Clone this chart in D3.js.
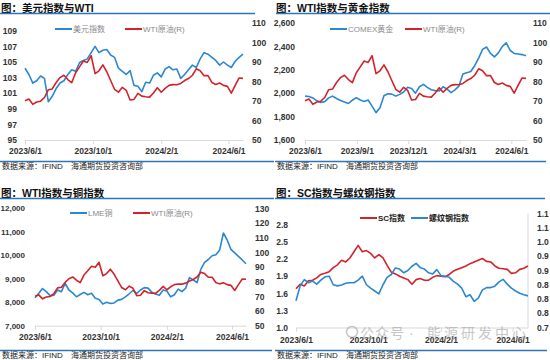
<!DOCTYPE html>
<html><head><meta charset="utf-8">
<script src="https://cdn.jsdelivr.net/npm/d3@7"></script>
<style>
body{margin:0;background:#fff;}
svg{display:block;}
text{font-family:"Liberation Sans","Noto Sans CJK SC",sans-serif;}
</style></head><body>
<svg id="c" width="550" height="360"></svg>
<script>
// ---------- DATA ----------
const dates = ["2023-06-01","2023-06-08","2023-06-15","2023-06-22","2023-06-29","2023-07-06","2023-07-13","2023-07-20","2023-07-27",
"2023-08-03","2023-08-10","2023-08-17","2023-08-24","2023-08-31","2023-09-07","2023-09-14","2023-09-21","2023-09-28",
"2023-10-05","2023-10-12","2023-10-19","2023-10-26","2023-11-02","2023-11-09","2023-11-16","2023-11-23","2023-11-30",
"2023-12-07","2023-12-14","2023-12-21","2023-12-28","2024-01-04","2024-01-11","2024-01-18","2024-01-25",
"2024-02-01","2024-02-08","2024-02-15","2024-02-22","2024-02-29","2024-03-07","2024-03-14","2024-03-21","2024-03-28",
"2024-04-04","2024-04-11","2024-04-18","2024-04-25","2024-05-02","2024-05-09","2024-05-16","2024-05-23","2024-05-30",
"2024-06-06","2024-06-13","2024-06-20","2024-06-27"];

const wti = [70.1,71.0,68.3,69.5,69.9,71.8,75.8,76.2,79.5,82.0,83.2,81.0,79.4,84.5,87.5,90.5,89.8,93.2,84.0,85.5,88.5,85.0,80.5,76.0,74.5,77.0,75.5,70.5,70.8,73.9,72.5,72.2,72.0,74.1,76.8,74.5,76.5,78.0,78.4,78.3,79.0,80.5,81.5,83.2,86.5,85.5,83.0,83.0,79.5,78.5,79.2,78.0,77.5,74.0,78.0,81.8,81.6];
const dxy = [104.2,103.4,102.3,102.6,103.2,102.9,99.9,100.6,101.6,102.3,102.6,103.4,104.0,103.8,104.9,105.2,105.4,106.2,107.0,106.2,106.5,106.6,105.9,105.6,104.2,103.8,103.4,103.9,102.0,101.9,101.2,102.4,102.3,103.3,103.6,103.1,104.1,104.4,104.0,104.1,102.9,103.4,104.0,104.6,104.3,105.4,106.2,106.0,105.6,105.2,104.6,105.0,104.6,104.3,105.1,105.6,106.0];
const gold = [1975,1972,1960,1935,1920,1928,1960,1975,1955,1938,1925,1912,1940,1962,1942,1930,1942,1890,1834,1875,1978,1995,1992,1975,1990,2010,2050,2040,2000,2055,2075,2050,2030,2022,2020,2055,2035,2005,2028,2060,2165,2175,2185,2235,2300,2375,2395,2340,2310,2345,2400,2430,2365,2340,2335,2330,2320];
const copper = [8190,8380,8580,8450,8280,8300,8520,8450,8800,8520,8400,8230,8330,8420,8320,8380,8170,8120,7920,8000,7950,7970,8090,8120,8230,8360,8500,8380,8520,8620,8600,8420,8350,8300,8520,8480,8230,8320,8560,8450,8600,9050,8950,8830,9400,9700,9820,9980,10020,10220,10950,10650,10250,10100,9950,9800,9640];
const scIdx = [1.68,1.76,1.73,1.82,1.83,1.87,1.93,1.95,1.98,2.05,2.10,2.18,2.15,2.22,2.33,2.44,2.33,2.35,2.30,2.22,2.28,2.22,2.09,1.97,1.94,1.90,1.87,1.84,1.76,1.84,1.86,1.83,1.83,1.88,1.91,1.90,1.89,1.93,1.99,2.02,2.05,2.08,2.12,2.15,2.18,2.21,2.16,2.15,2.08,2.04,2.03,2.02,1.95,1.96,2.02,2.04,2.08];
const rebar = [0.794,0.846,0.868,0.857,0.863,0.852,0.866,0.878,0.880,0.850,0.846,0.849,0.855,0.857,0.857,0.866,0.880,0.850,0.838,0.828,0.818,0.850,0.876,0.886,0.909,0.905,0.892,0.900,0.915,0.925,0.910,0.905,0.892,0.888,0.903,0.882,0.880,0.876,0.862,0.852,0.838,0.808,0.815,0.792,0.803,0.832,0.840,0.840,0.845,0.860,0.869,0.852,0.838,0.828,0.820,0.815,0.811];

const ticks4m = ["2023/6/1","2023/10/1","2024/2/1","2024/6/1"];
const ticks3m = ["2023/6/1","2023/9/1","2023/12/1","2024/3/1","2024/6/1"];
const dxyTicks = [95,97,99,101,103,105,107,109];
const wtiTicks110 = [50,60,70,80,90,100,110];
const goldTicks = [1600,1800,2000,2200,2400,2600];
const copperTicks = [7000,8000,9000,10000,11000,12000];
const wtiTicks130 = [50,60,70,80,90,100,110,120,130];
const scTicks = [1.0,1.3,1.6,1.9,2.2,2.5,2.8];
const rebarTicks = [0.7,0.75,0.8,0.85,0.9,0.95,1.0,1.05,1.1];

// ---------- DRAW ----------
const BLUE = "#2b87d3", RED = "#d2232a", HEAD = "#2e75b6";
const svg = d3.select("#c");
const parse = d3.timeParse("%Y-%m-%d");
const parseTick = d3.timeParse("%Y/%m/%d");
const D = dates.map(parse);

function panel(o){
  const g = svg.append("g");
  g.append("text").attr("x",o.tx).attr("y",o.ty).attr("font-size",10.5).attr("font-weight","bold").attr("fill","#111").text(o.title);
  g.append("line").attr("x1",o.h1[0]).attr("x2",o.h1[1]).attr("y1",o.ty+2).attr("y2",o.ty+2).attr("stroke",HEAD).attr("stroke-width",1.5);
  g.append("line").attr("x1",o.h2[0]).attr("x2",o.h2[1]).attr("y1",o.sy-7).attr("y2",o.sy-7).attr("stroke",HEAD).attr("stroke-width",1.5);
  g.append("text").attr("x",o.tx+1).attr("y",o.sy).attr("font-size",8).attr("fill","#222").text("数据来源：IFIND　海通期货投资咨询部");

  const x = d3.scaleTime().domain([D[0], D[D.length-1]]).range([o.x0,o.x1]);
  const yL = d3.scaleLinear().domain(o.lDom).range([o.yB,o.yT]);
  const yR = d3.scaleLinear().domain(o.rDom).range([o.yB,o.yT]);

  const xa = g.append("g").attr("transform",`translate(0,${o.yB})`)
    .call(d3.axisBottom(x).tickValues(o.xTicks.map(parseTick)).tickFormat((d,i)=>o.xTicks[i]).tickSize(4).tickSizeOuter(0).tickPadding(o.xPad));
  xa.select(".domain").attr("stroke","#d9d9d9");
  xa.selectAll(".tick line").attr("stroke","#d9d9d9");
  xa.selectAll("text").attr("font-size",8.5).attr("font-weight","bold").attr("fill","#333").attr("font-family",null);

  const la = g.append("g").attr("transform",`translate(${o.lx},0)`)
    .call(d3.axisLeft(yL).tickValues(o.lTicks).tickFormat(o.lFmt).tickSize(0).tickPadding(0));
  la.select(".domain").remove();
  la.selectAll("text").attr("font-size",o.lSize||8.5).attr("font-weight","bold").attr("fill","#333").attr("font-family",null);

  const ra = g.append("g").attr("transform",`translate(${o.rx},0)`)
    .call(d3.axisRight(yR).tickValues(o.rTicks).tickFormat(o.rFmt).tickSize(0).tickPadding(0));
  ra.select(".domain").remove();
  ra.selectAll("text").attr("font-size",8.5).attr("font-weight","bold").attr("fill","#333").attr("font-family",null);

  if(o.rightAxisLine){
    g.append("line").attr("x1",o.x1).attr("x2",o.x1).attr("y1",yR.range()[1]).attr("y2",yR.range()[0]).attr("stroke","#d9d9d9");
  }

  const mk = (vals, sc) => d3.line().x((d,i)=>x(D[i])).y(d=>sc(d))(vals);
  o.series.forEach(s=>{
    g.append("path").attr("d",mk(s.vals, s.axis==="L"?yL:yR)).attr("fill","none")
     .attr("stroke",s.color).attr("stroke-width",1.6).attr("stroke-linejoin","round");
  });
  o.legend.forEach(l=>{
    g.append("line").attr("x1",l.x).attr("x2",l.x+17).attr("y1",o.ly).attr("y2",o.ly).attr("stroke",l.color).attr("stroke-width",2);
    g.append("text").attr("x",l.x+18).attr("y",o.ly+3).attr("font-size",8)
     .attr("fill",o.legDark?"#222":"#8a8a8a").attr("font-weight",o.legDark?"bold":"normal").text(l.name);
  });
}

const f0 = d3.format("d"), fc = d3.format(","), f1 = d3.format(".1f");

panel({title:"图：美元指数与WTI", tx:1, ty:11.5, h1:[0,255], h2:[0,274], sy:168.5,
  x0:25, x1:243, yT:23, yB:140, xTicks:ticks4m, xPad:4,
  lDom:[95,110], lTicks:dxyTicks, lFmt:f0, lx:17,
  rDom:[50,110], rTicks:wtiTicks110, rFmt:f0, rx:252,
  series:[{vals:dxy,axis:"L",color:BLUE},{vals:wti,axis:"R",color:RED}],
  ly:29, legend:[{x:55,color:BLUE,name:"美元指数"},{x:125,color:RED,name:"WTI原油(R)"}]});

panel({title:"图：WTI指数与黄金指数", tx:276, ty:11.5, h1:[276,550], h2:[275,546], sy:168.5,
  x0:305, x1:526, yT:23, yB:140, xTicks:ticks3m, xPad:4,
  lDom:[1600,2600], lTicks:goldTicks, lFmt:fc, lx:295,
  rDom:[50,110], rTicks:wtiTicks110, rFmt:f0, rx:533,
  series:[{vals:gold,axis:"L",color:BLUE},{vals:wti,axis:"R",color:RED}],
  ly:29, legend:[{x:330,color:BLUE,name:"COMEX黄金"},{x:405,color:RED,name:"WTI原油(R)"}]});

panel({title:"图：WTI指数与铜指数", tx:1, ty:196.5, h1:[0,274], h2:[0,272], sy:357.5,
  x0:35, x1:246, yT:208.3, yB:325.7, xTicks:ticks4m, xPad:4,
  lDom:[7000,12000], lTicks:copperTicks, lFmt:fc, lx:25, lSize:8,
  rDom:[50,130], rTicks:wtiTicks130, rFmt:f0, rx:255,
  series:[{vals:copper,axis:"L",color:BLUE},{vals:wti,axis:"R",color:RED}],
  ly:213, legend:[{x:70,color:BLUE,name:"LME铜"},{x:133,color:RED,name:"WTI原油(R)"}]});

panel({title:"图：SC指数与螺纹钢指数", tx:276, ty:196.5, h1:[275,545], h2:[275,547], sy:357.5,
  x0:296, x1:528, yT:213.5, yB:327.5, xTicks:ticks4m, xPad:5, rightAxisLine:true,
  lDom:[1.0,3.0], lTicks:scTicks, lFmt:f1, lx:288,
  rDom:[0.7,1.1], rTicks:rebarTicks, rFmt:f1, rx:537,
  series:[{vals:scIdx,axis:"L",color:RED},{vals:rebar,axis:"R",color:BLUE}],
  ly:218, legDark:true, legend:[{x:360,color:RED,name:"SC指数"},{x:411,color:BLUE,name:"螺纹钢指数"}]});

// watermark
const wm = svg.append("g").attr("opacity",0.55);
wm.append("circle").attr("cx",352).attr("cy",332).attr("r",5.5).attr("fill","none").attr("stroke","#999").attr("stroke-width",1.5);
wm.append("text").attr("x",360).attr("y",338).attr("font-size",14).attr("fill","#999").attr("font-family","Noto Sans CJK SC").attr("letter-spacing",1).text("公众号");
wm.append("text").attr("x",409).attr("y",338).attr("font-size",14).attr("fill","#999").attr("font-family","Noto Sans CJK SC").text("·");
wm.append("text").attr("x",427).attr("y",338).attr("font-size",14).attr("fill","#999").attr("font-family","Noto Sans CJK SC").attr("letter-spacing",3).text("能源研发中心");
</script>
</body></html>
